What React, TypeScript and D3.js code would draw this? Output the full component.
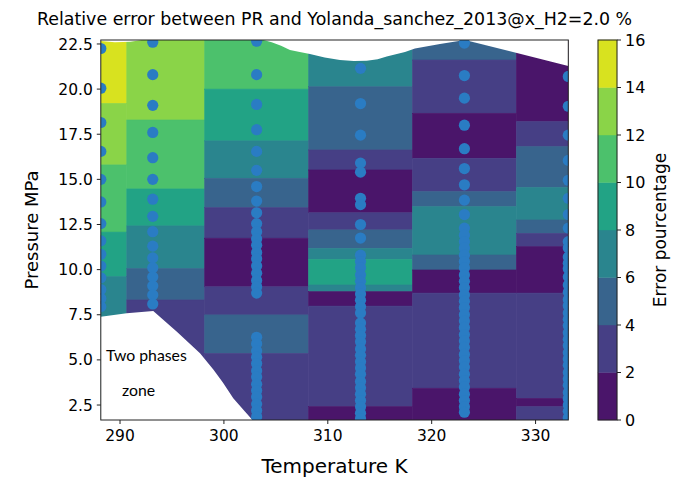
import React from "react";
import * as d3 from "d3";

const title = "Relative error between PR and Yolanda_sanchez_2013@x_H2=2.0 %";
const levels = [0, 2, 4, 6, 8, 10, 12, 14, 16];
const levelColors = ["#4a156a", "#463f85", "#38648d", "#2a858e", "#22a385", "#4cc16c", "#8ad448", "#d8e21f"];
const xTicks = [290, 300, 310, 320, 330];
const yTicks = [2.5, 5.0, 7.5, 10.0, 12.5, 15.0, 17.5, 20.0, 22.5];

// temperature edges of the contour columns (K)
const colEdges = [288.15, 290.65, 298.15, 308.15, 318.15, 328.15, 333.15];

// bands per column: [upper MPa, lower MPa, level index]
const col288 = [[22.72, 19.21, 7], [19.21, 15.8, 6], [15.8, 12.08, 5], [12.08, 9.61, 4], [9.61, 1.67, 3]];
const col293 = [[22.72, 18.29, 6], [18.29, 14.47, 5], [14.47, 12.42, 4], [12.42, 10.06, 3], [10.06, 8.32, 2], [8.32, 1.67, 1]];
const col303 = [[22.72, 20.0, 5], [20.0, 17.13, 4], [17.13, 15.06, 3], [15.06, 13.43, 2], [13.43, 11.74, 1], [11.74, 9.05, 0], [9.05, 7.49, 1], [7.49, 5.36, 2], [5.36, 1.67, 1]];
const col313 = [[22.72, 20.13, 3], [20.13, 16.63, 2], [16.63, 15.52, 1], [15.52, 13.15, 0], [13.15, 12.2, 1], [12.2, 11.18, 2], [11.18, 10.57, 3], [10.57, 9.15, 4], [9.15, 8.78, 3], [8.78, 7.98, 0], [7.98, 2.41, 1], [2.41, 1.67, 0]];
const col323 = [[22.72, 21.61, 2], [21.61, 18.66, 1], [18.66, 16.17, 0], [16.17, 14.32, 1], [14.32, 13.49, 2], [13.49, 10.81, 3], [10.81, 9.98, 2], [9.98, 8.7, 0], [8.7, 3.43, 1], [3.43, 1.67, 0]];
const col333 = [[22.72, 18.2, 0], [18.2, 16.81, 1], [16.81, 14.55, 2], [14.55, 12.75, 3], [12.75, 12.01, 2], [12.01, 11.27, 1], [11.27, 8.7, 0], [8.7, 2.87, 1], [2.87, 2.41, 0], [2.41, 1.67, 1]];
const columns = [col288, col293, col303, col313, col323, col333];

// regions outside the triangulation (left white)
const twoPhaseZone = [[288.15, 1.67], [288.15, 7.39], [290.64, 7.58], [293.2, 7.71], [295.5, 6.55], [297.7, 5.37], [299.0, 4.45], [299.9, 3.75], [300.9, 2.87], [302.0, 2.15], [302.75, 1.67]];
const topGap = [[303.8, 22.72], [304.6, 22.6], [305.5, 22.4], [306.36, 22.17], [307.3, 22.05], [308.28, 21.95], [309.7, 21.75], [311.17, 21.61], [312.5, 21.56], [313.74, 21.57], [314.8, 21.66], [315.67, 21.8], [317.43, 22.06], [318.39, 22.25], [320.8, 22.5], [323.2, 22.72], [333.15, 21.28], [333.15, 22.72]];
const topSliver = [[288.15, 22.72], [288.15, 22.67], [289.5, 22.6], [291.0, 22.62], [292.1, 22.72]];

// measured points (MPa) per temperature
const temps = [288.15, 293.15, 303.15, 313.15, 323.15, 333.15];
const p288 = [22.25, 20.05, 18.15, 16.55, 15.0, 13.75, 12.55, 11.6, 10.85, 10.2, 9.55, 8.9, 8.4, 7.95];
const p293 = [22.6, 20.8, 19.1, 17.6, 16.2, 15.0, 13.9, 12.95, 12.1, 11.3, 10.65, 10.1, 9.6, 9.1, 8.6, 8.1];
const p303 = [22.65, 20.8, 19.15, 17.75, 16.55, 15.5, 14.6, 13.8, 13.15, 12.55, 12.1, 11.7, 11.35, 10.95, 10.6, 10.2, 9.8, 9.4, 9.05, 8.7,
  6.25, 5.9, 5.5, 5.15, 4.8, 4.4, 4.05, 3.65, 3.3, 2.95, 2.55, 2.2, 1.85];
const p313 = [21.15, 19.2, 17.45, 15.9, 15.4, 13.95, 13.6, 12.5, 11.75, 10.8, 10.45, 10.1, 9.7, 9.35, 9.0, 8.65, 8.3, 7.95, 7.6,
  7.05, 6.7, 6.35, 6.0, 5.6, 5.25, 4.9, 4.55, 4.2, 3.8, 3.45, 3.1, 2.75, 2.4, 2.05, 1.75];
const p323 = [22.55, 20.75, 19.5, 18.0, 16.7, 15.6, 14.7, 13.85, 13.05, 12.3, 11.9, 11.55, 11.2, 10.8, 10.45, 10.1, 9.7, 9.35, 9.0,
  8.6, 8.25, 7.9, 7.5, 7.15, 6.8, 6.4, 6.05, 5.7, 5.3, 4.95, 4.6, 4.2, 3.85, 3.5, 3.1, 2.75, 2.4, 2.1];
const p333 = [20.7, 19.05, 17.45, 16.05, 14.95, 13.95, 13.05, 12.3, 11.55, 11.2, 10.7, 10.35, 10.05, 9.6, 9.15, 8.75, 8.35, 8.0,
  7.6, 7.25, 6.9, 6.5, 6.15, 5.8, 5.4, 5.05, 4.7, 4.3, 3.95, 3.6, 3.2, 2.85, 2.5, 2.15, 1.8];
const pressures = [p288, p293, p303, p313, p323, p333];

const W = 679, H = 490;
const margin = { top: 40, right: 110.7, bottom: 70, left: 100.8 };
const font = "DejaVu Sans, sans-serif";

export default function App() {
  const x = d3.scaleLinear().domain([288.15, 333.15]).range([margin.left, W - margin.right]);
  const y = d3.scaleLinear().domain([1.67, 22.72]).range([H - margin.bottom, margin.top]);
  const cb = d3.scaleLinear().domain([0, 16]).range([H - margin.bottom, margin.top]);
  const cbX = 598, cbW = 19;

  const area = d3.line<number[]>().x((d) => x(d[0])).y((d) => y(d[1]));
  const pts = temps.flatMap((t, i) => pressures[i].map((p) => [t, p]));

  return (
    <svg width={W} height={H} style={{ position: "absolute", left: 0, top: 0 }} fontFamily={font}>
      <defs>
        <clipPath id="plot">
          <rect x={margin.left} y={margin.top} width={x.range()[1] - margin.left} height={y.range()[0] - margin.top} />
        </clipPath>
      </defs>
      <rect width={W} height={H} fill="#fff" />
      <text x={(x.range()[0] + x.range()[1]) / 2} y={25} textAnchor="middle" fontSize={17.4}>{title}</text>

      <g clipPath="url(#plot)">
        {columns.map((col, i) =>
          col.map((b, j) => (
            <rect key={`${i}-${j}`} x={x(colEdges[i])} width={x(colEdges[i + 1]) - x(colEdges[i])}
              y={y(b[0])} height={y(b[1]) - y(b[0])} fill={levelColors[b[2]]}
              stroke={levelColors[b[2]]} strokeWidth={0.6} />
          ))
        )}
        {[twoPhaseZone, topGap, topSliver].map((poly, i) => (
          <path key={i} d={area(poly) + "Z"} fill="#fff" />
        ))}
        {pts.map((d, i) => (
          <circle key={i} cx={x(d[0])} cy={y(d[1])} r={5.6} fill="#2a7cc3" />
        ))}
      </g>
      <rect x={margin.left} y={margin.top} width={x.range()[1] - margin.left} height={y.range()[0] - margin.top}
        fill="none" stroke="#222" strokeWidth={1} />

      {xTicks.map((t) => (
        <g key={t} transform={`translate(${x(t)},${H - margin.bottom})`}>
          <line y2={4} stroke="#222" />
          <text y={21} textAnchor="middle" fontSize={15.5}>{t}</text>
        </g>
      ))}
      {yTicks.map((t) => (
        <g key={t} transform={`translate(${margin.left},${y(t)})`}>
          <line x2={-4} stroke="#222" />
          <text x={-8} dy="0.36em" textAnchor="end" fontSize={15.5}>{t.toFixed(1)}</text>
        </g>
      ))}
      <text x={(x.range()[0] + x.range()[1]) / 2} y={473} textAnchor="middle" fontSize={20}>Temperature K</text>
      <text transform={`translate(38,${(margin.top + H - margin.bottom) / 2}) rotate(-90)`} textAnchor="middle" fontSize={18}>Pressure MPa</text>

      <text x={106} y={361} fontFamily="Lato, sans-serif" fontSize={15.8}>Two phases</text>
      <text x={122} y={396} fontFamily="Lato, sans-serif" fontSize={15.8}>zone</text>

      {levelColors.map((c, i) => (
        <rect key={c} x={cbX} width={cbW} y={cb(levels[i + 1])} height={cb(levels[i]) - cb(levels[i + 1])}
          fill={c} stroke={c} strokeWidth={0.4} />
      ))}
      <rect x={cbX} y={margin.top} width={cbW} height={H - margin.bottom - margin.top} fill="none" stroke="#222" />
      {levels.map((l) => (
        <g key={l} transform={`translate(${cbX + cbW},${cb(l)})`}>
          <line x2={4} stroke="#222" />
          <text x={8} dy="0.36em" fontSize={16}>{l}</text>
        </g>
      ))}
      <text transform={`translate(666,${(margin.top + H - margin.bottom) / 2}) rotate(-90)`} textAnchor="middle" fontSize={17}>Error pourcentage</text>
    </svg>
  );
}
